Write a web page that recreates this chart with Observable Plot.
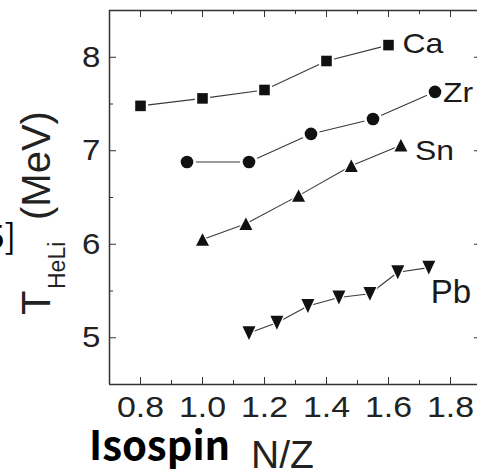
<!DOCTYPE html>
<html><head><meta charset="utf-8">
<script src="https://cdn.jsdelivr.net/npm/d3@7"></script>
<script src="https://cdn.jsdelivr.net/npm/@observablehq/plot@0.6"></script>
<style>
html,body{margin:0;padding:0;background:#fff;}
#chart{width:477px;height:473px;overflow:hidden;}
</style></head><body><div id="chart"></div>
<script>
// ---- data ----
const xTicks = [0.8, 1.0, 1.2, 1.4, 1.6, 1.8];
const xMinor = [0.9, 1.1, 1.3, 1.5, 1.7];
const yTicks = [5, 6, 7, 8];
const yMinor = [5.5, 6.5, 7.5];
const seriesNames = ["Ca", "Zr", "Sn", "Pb"];
const caX = [0.80, 1.00, 1.20, 1.40, 1.60];
const caY = [7.48, 7.56, 7.65, 7.96, 8.13];
const zrX = [0.95, 1.15, 1.35, 1.55, 1.75];
const zrY = [6.88, 6.88, 7.18, 7.34, 7.63];
const snX = [1.00, 1.14, 1.31, 1.48, 1.64];
const snY = [6.05, 6.22, 6.52, 6.84, 7.06];
const pbX = [1.15, 1.24, 1.34, 1.44, 1.54, 1.63, 1.73];
const pbY = [5.05, 5.16, 5.34, 5.43, 5.47, 5.70, 5.75];
const yTitleMain = "T", yTitleSub = "HeLi", yTitleUnit = "(MeV)";
const xTitleBold = "Isospin", xTitleUnit = "N/Z";
const edgeText = "5]";

// ---- layout ----
const W = 477, H = 473, mL = 109, mR = -4, mT = 10, mB = 89;
const fw = W - mL - mR, fh = H - mT - mB;
const xDomain = [0.7, 1.9], yDomain = [4.5, 8.5];
const ink = "#333";

function sym(f) { return { draw(ctx, size) { const r = Math.sqrt(size / Math.PI); f(ctx, r); } }; }
const symSquare = sym((c, r) => { const h = r * 0.84; c.rect(-h, -h, 2 * h, 2 * h); });
const symCircle = sym((c, r) => { c.moveTo(r, 0); c.arc(0, 0, r, 0, 2 * Math.PI); });
const symUp = sym((c, r) => { const w = r * 1.03, h = r * 0.99; c.moveTo(0, -h); c.lineTo(w, h); c.lineTo(-w, h); c.closePath(); });
const symDown = sym((c, r) => { const w = r * 1.03, h = r * 1.1; c.moveTo(0, h); c.lineTo(w, -h); c.lineTo(-w, -h); c.closePath(); });

const series = [
  { name: seriesNames[0], xs: caX, ys: caY, symbol: symSquare, dx: 14, dy: -1, fs: 28 },
  { name: seriesNames[1], xs: zrX, ys: zrY, symbol: symCircle, dx: 8, dy: 1, fs: 28 },
  { name: seriesNames[2], xs: snX, ys: snY, symbol: symUp, dx: 14, dy: 6, fs: 28 },
  { name: seriesNames[3], xs: pbX, ys: pbY, symbol: symDown, dx: 2, dy: 25, fs: 33 }
];

const marks = [
  Plot.ruleY(yDomain, { stroke: ink, strokeWidth: 1.5 }),
  Plot.ruleX([xDomain[0]], { stroke: ink, strokeWidth: 1.5 }),
  Plot.tickX(xTicks, { x: d => d, insetTop: fh - 7, stroke: ink }),
  Plot.tickX(xTicks, { x: d => d, insetBottom: fh - 7, stroke: ink }),
  Plot.tickX(xMinor, { x: d => d, insetTop: fh - 4, stroke: ink }),
  Plot.tickX(xMinor, { x: d => d, insetBottom: fh - 4, stroke: ink }),
  Plot.tickY(yTicks, { y: d => d, insetRight: fw - 7, stroke: ink }),
  Plot.tickY(yTicks, { y: d => d, insetLeft: fw - 7, stroke: ink }),
  Plot.tickY(yMinor, { y: d => d, insetRight: fw - 4, stroke: ink }),
  Plot.tickY(yMinor, { y: d => d, insetLeft: fw - 4, stroke: ink }),
  Plot.axisX({ ticks: xTicks, tickSize: 0, tickPadding: 11, tickFormat: d => d.toFixed(1), fontSize: 30, label: null, color: "#222" }),
  Plot.axisY({ ticks: yTicks, tickSize: 0, tickPadding: 9, tickFormat: d => String(d), fontSize: 30, label: null, color: "#222" })
];

for (const s of series) {
  const data = s.xs.map((x, i) => ({ x, y: s.ys[i] }));
  marks.push(Plot.line(data, { x: "x", y: "y", stroke: "#3a3a3a", strokeWidth: 1.1 }));
  marks.push(Plot.dot(data, { x: "x", y: "y", r: 9, symbol: s.symbol, fill: "white", stroke: null }));
  marks.push(Plot.dot(data, { x: "x", y: "y", r: 6.3, symbol: s.symbol, fill: "#111", stroke: null }));
  marks.push(Plot.text([data[data.length - 1]], { x: "x", y: "y", text: () => s.name, textAnchor: "start", dx: s.dx, dy: s.dy, fontSize: s.fs, fill: "#1a1a1a" }));
}

const svg = Plot.plot({
  width: W, height: H,
  marginLeft: mL, marginRight: mR, marginTop: mT, marginBottom: mB,
  x: { domain: xDomain },
  y: { domain: yDomain },
  style: { fontFamily: "'Liberation Sans', Arial, sans-serif", background: "white" },
  marks
});
document.getElementById("chart").append(svg);

// horizontal stretch of the wide-looking sans text
function stretch(sel, k) {
  svg.querySelectorAll(sel).forEach(t => {
    const L = t.getComputedTextLength();
    t.setAttribute("textLength", (L * k).toFixed(1));
    t.setAttribute("lengthAdjust", "spacingAndGlyphs");
  });
}
stretch('g[aria-label="x-axis tick label"] text', 1.13);
stretch('g[aria-label="y-axis tick label"] text', 1.1);
svg.querySelectorAll('g[aria-label="text"] text').forEach(t => {
  if (t.textContent !== seriesNames[3]) {
    const L = t.getComputedTextLength();
    t.setAttribute("textLength", (L * 1.14).toFixed(1));
    t.setAttribute("lengthAdjust", "spacingAndGlyphs");
  }
});

// titles
const g = d3.select(svg);
const yt = g.append("text")
  .attr("transform", "translate(50,315) rotate(-90)")
  .attr("text-anchor", "start")
  .attr("font-family", "'Liberation Sans', Arial, sans-serif")
  .attr("fill", "#222");
yt.append("tspan").attr("x", 0).attr("y", 0).attr("font-size", 40).text(yTitleMain);
yt.append("tspan").attr("x", 26).attr("y", 15).attr("font-size", 23).text(yTitleSub);
yt.append("tspan").attr("x", 95).attr("y", 0).attr("font-size", 40).text(yTitleUnit);

g.append("text").attr("x", 16).attr("y", 249).attr("text-anchor", "end")
  .attr("font-family", "'Noto Sans CJK SC', sans-serif").attr("font-size", 34).attr("fill", "#000").text(edgeText);
g.append("text").attr("x", 89).attr("y", 460).attr("text-anchor", "start")
  .attr("font-family", "'Noto Sans CJK SC', sans-serif").attr("font-weight", "bold").attr("font-size", 40).attr("fill", "#000").text(xTitleBold);
g.append("text").attr("x", 251).attr("y", 468).attr("text-anchor", "start")
  .attr("font-family", "'Liberation Sans', Arial, sans-serif").attr("font-size", 39).attr("fill", "#222").text(xTitleUnit);
</script></body></html>
